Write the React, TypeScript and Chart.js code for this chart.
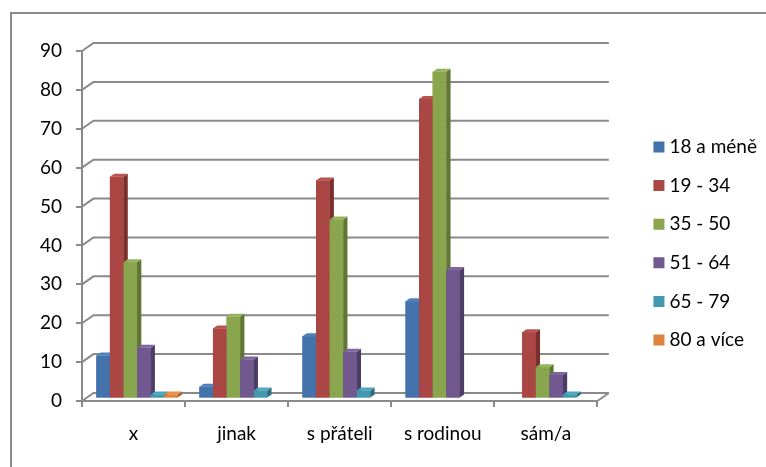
import React, { useEffect, useRef } from 'react';
import { Chart, registerables } from 'chart.js';

Chart.register(...registerables);

const categories = ['x', 'jinak', 's přáteli', 's rodinou', 'sám/a'];
const seriesNames = ['18 a méně', '19 - 34', '35 - 50', '51 - 64', '65 - 79', '80 a více'];
const s18 = [11, 3, 16, 25, 0];
const s19 = [57, 18, 56, 77, 17];
const s35 = [35, 21, 46, 84, 8];
const s51 = [13, 10, 12, 33, 6];
const s65 = [1, 2, 2, 0, 1];
const s80 = [1, 0, 0, 0, 0];
const seriesValues = [s18, s19, s35, s51, s65, s80];
const yTickMax = 90;
const yTickStep = 10;

const frontColors = ['#4473AB', '#AA4643', '#89A54E', '#71588F', '#4198AF', '#DB843D'];
const sideColors = ['#2E5080', '#7A2F2D', '#5F7634', '#4D3C63', '#2B6E80', '#A5602A'];
const topColors = ['#4F80BA', '#B85350', '#95B35B', '#7D66A0', '#4FA7BF', '#E8924C'];

const GRID = '#8A8A8A';
// wall depth
const DX = 11.5;
const DY = 8;
// bar front offset
const OX = 3.5;
const OY = 2.6;
// bar depth
const BDX = 4.3;
const BDY = 3;

const threeD = {
  id: 'threeD',
  beforeDraw(chart: any) {
    const ctx = chart.ctx;
    ctx.save();
    ctx.strokeStyle = GRID;
    ctx.lineWidth = 2;
    ctx.strokeRect(11, 13, 900, 600);
    ctx.restore();
  },
  beforeDatasetsDraw(chart: any) {
    const { ctx, chartArea, scales } = chart;
    const { left, right, bottom } = chartArea;
    const y = scales.y;
    ctx.save();
    ctx.strokeStyle = GRID;
    ctx.lineWidth = 2;
    y.ticks.forEach((t: any) => {
      const py = y.getPixelForValue(t.value);
      ctx.beginPath();
      ctx.moveTo(left, py);
      ctx.lineTo(left + DX, py - DY);
      ctx.lineTo(right + DX, py - DY);
      ctx.stroke();
    });
    ctx.beginPath();
    ctx.moveTo(right, bottom);
    ctx.lineTo(right + DX, bottom - DY);
    ctx.stroke();
    ctx.restore();
    ctx.save();
    ctx.translate(OX, -OY);
  },
  afterDatasetsDraw(chart: any) {
    const ctx = chart.ctx;
    const n = chart.data.labels.length;
    for (let i = 0; i < n; i++) {
      for (let d = 0; d < chart.data.datasets.length; d++) {
        const v = chart.data.datasets[d].data[i];
        if (!v) continue;
        const el = chart.getDatasetMeta(d).data[i];
        const { x, y, base, width } = el.getProps(['x', 'y', 'base', 'width'], true);
        el.draw(ctx);
        const l = x - width / 2;
        const r = x + width / 2;
        ctx.fillStyle = sideColors[d];
        ctx.beginPath();
        ctx.moveTo(r, y);
        ctx.lineTo(r + BDX, y - BDY);
        ctx.lineTo(r + BDX, base - BDY);
        ctx.lineTo(r, base);
        ctx.closePath();
        ctx.fill();
        ctx.fillStyle = topColors[d];
        ctx.beginPath();
        ctx.moveTo(l, y);
        ctx.lineTo(l + BDX, y - BDY);
        ctx.lineTo(r + BDX, y - BDY);
        ctx.lineTo(r, y);
        ctx.closePath();
        ctx.fill();
      }
    }
    ctx.restore();
  },
};

export default function App() {
  const ref = useRef<HTMLCanvasElement>(null);
  useEffect(() => {
    if (!ref.current) return;
    const font = { family: 'Lato', size: 19 };
    const chart = new Chart(ref.current, {
      type: 'bar',
      data: {
        labels: categories,
        datasets: seriesNames.map((name, i) => ({
          label: name,
          data: seriesValues[i],
          backgroundColor: frontColors[i],
          borderWidth: 0,
          categoryPercentage: 0.79,
          barPercentage: 1,
        })),
      },
      options: {
        responsive: false,
        animation: false,
        layout: { padding: { top: 51, left: 0, right: 0, bottom: 0 } },
        plugins: {
          tooltip: { enabled: false },
          legend: {
            position: 'right',
            fullSize: false,
            title: { display: true, text: ' ', font: { size: 10 }, padding: { top: 11, bottom: 12 } },
            labels: {
              font,
              color: '#000',
              usePointStyle: true,
              pointStyle: 'rect',
              boxWidth: 2,
              boxHeight: 11,
              padding: 19.6,
            },
          },
        },
        scales: {
          x: {
            offset: true,
            grid: {
              offset: true,
              drawOnChartArea: false,
              drawTicks: true,
              tickLength: 6,
              color: GRID,
              lineWidth: 2,
            },
            border: { display: true, color: GRID, width: 2 },
            ticks: { font, color: '#000', padding: 15 },
            afterFit: (s: any) => { s.height = 66; },
          },
          y: {
            min: 0,
            max: yTickMax,
            grid: {
              drawOnChartArea: false,
              drawTicks: true,
              tickLength: 6,
              color: GRID,
              lineWidth: 2,
            },
            border: { display: true, color: GRID, width: 2 },
            ticks: { stepSize: yTickStep, font, color: '#000', padding: 14 },
            afterFit: (s: any) => { s.width = 82; },
          },
          yR: {
            position: 'right',
            display: true,
            grid: { display: false },
            border: { display: false },
            ticks: { display: false },
            afterFit: (s: any) => { s.width = 41; },
          },
        },
      },
      plugins: [threeD],
    } as any);
    return () => chart.destroy();
  }, []);
  return (
    <div style={{ position: 'absolute', left: 0, top: 0, width: 766, height: 467, background: '#fff' }}>
      <canvas ref={ref} width={766} height={467} />
    </div>
  );
}
